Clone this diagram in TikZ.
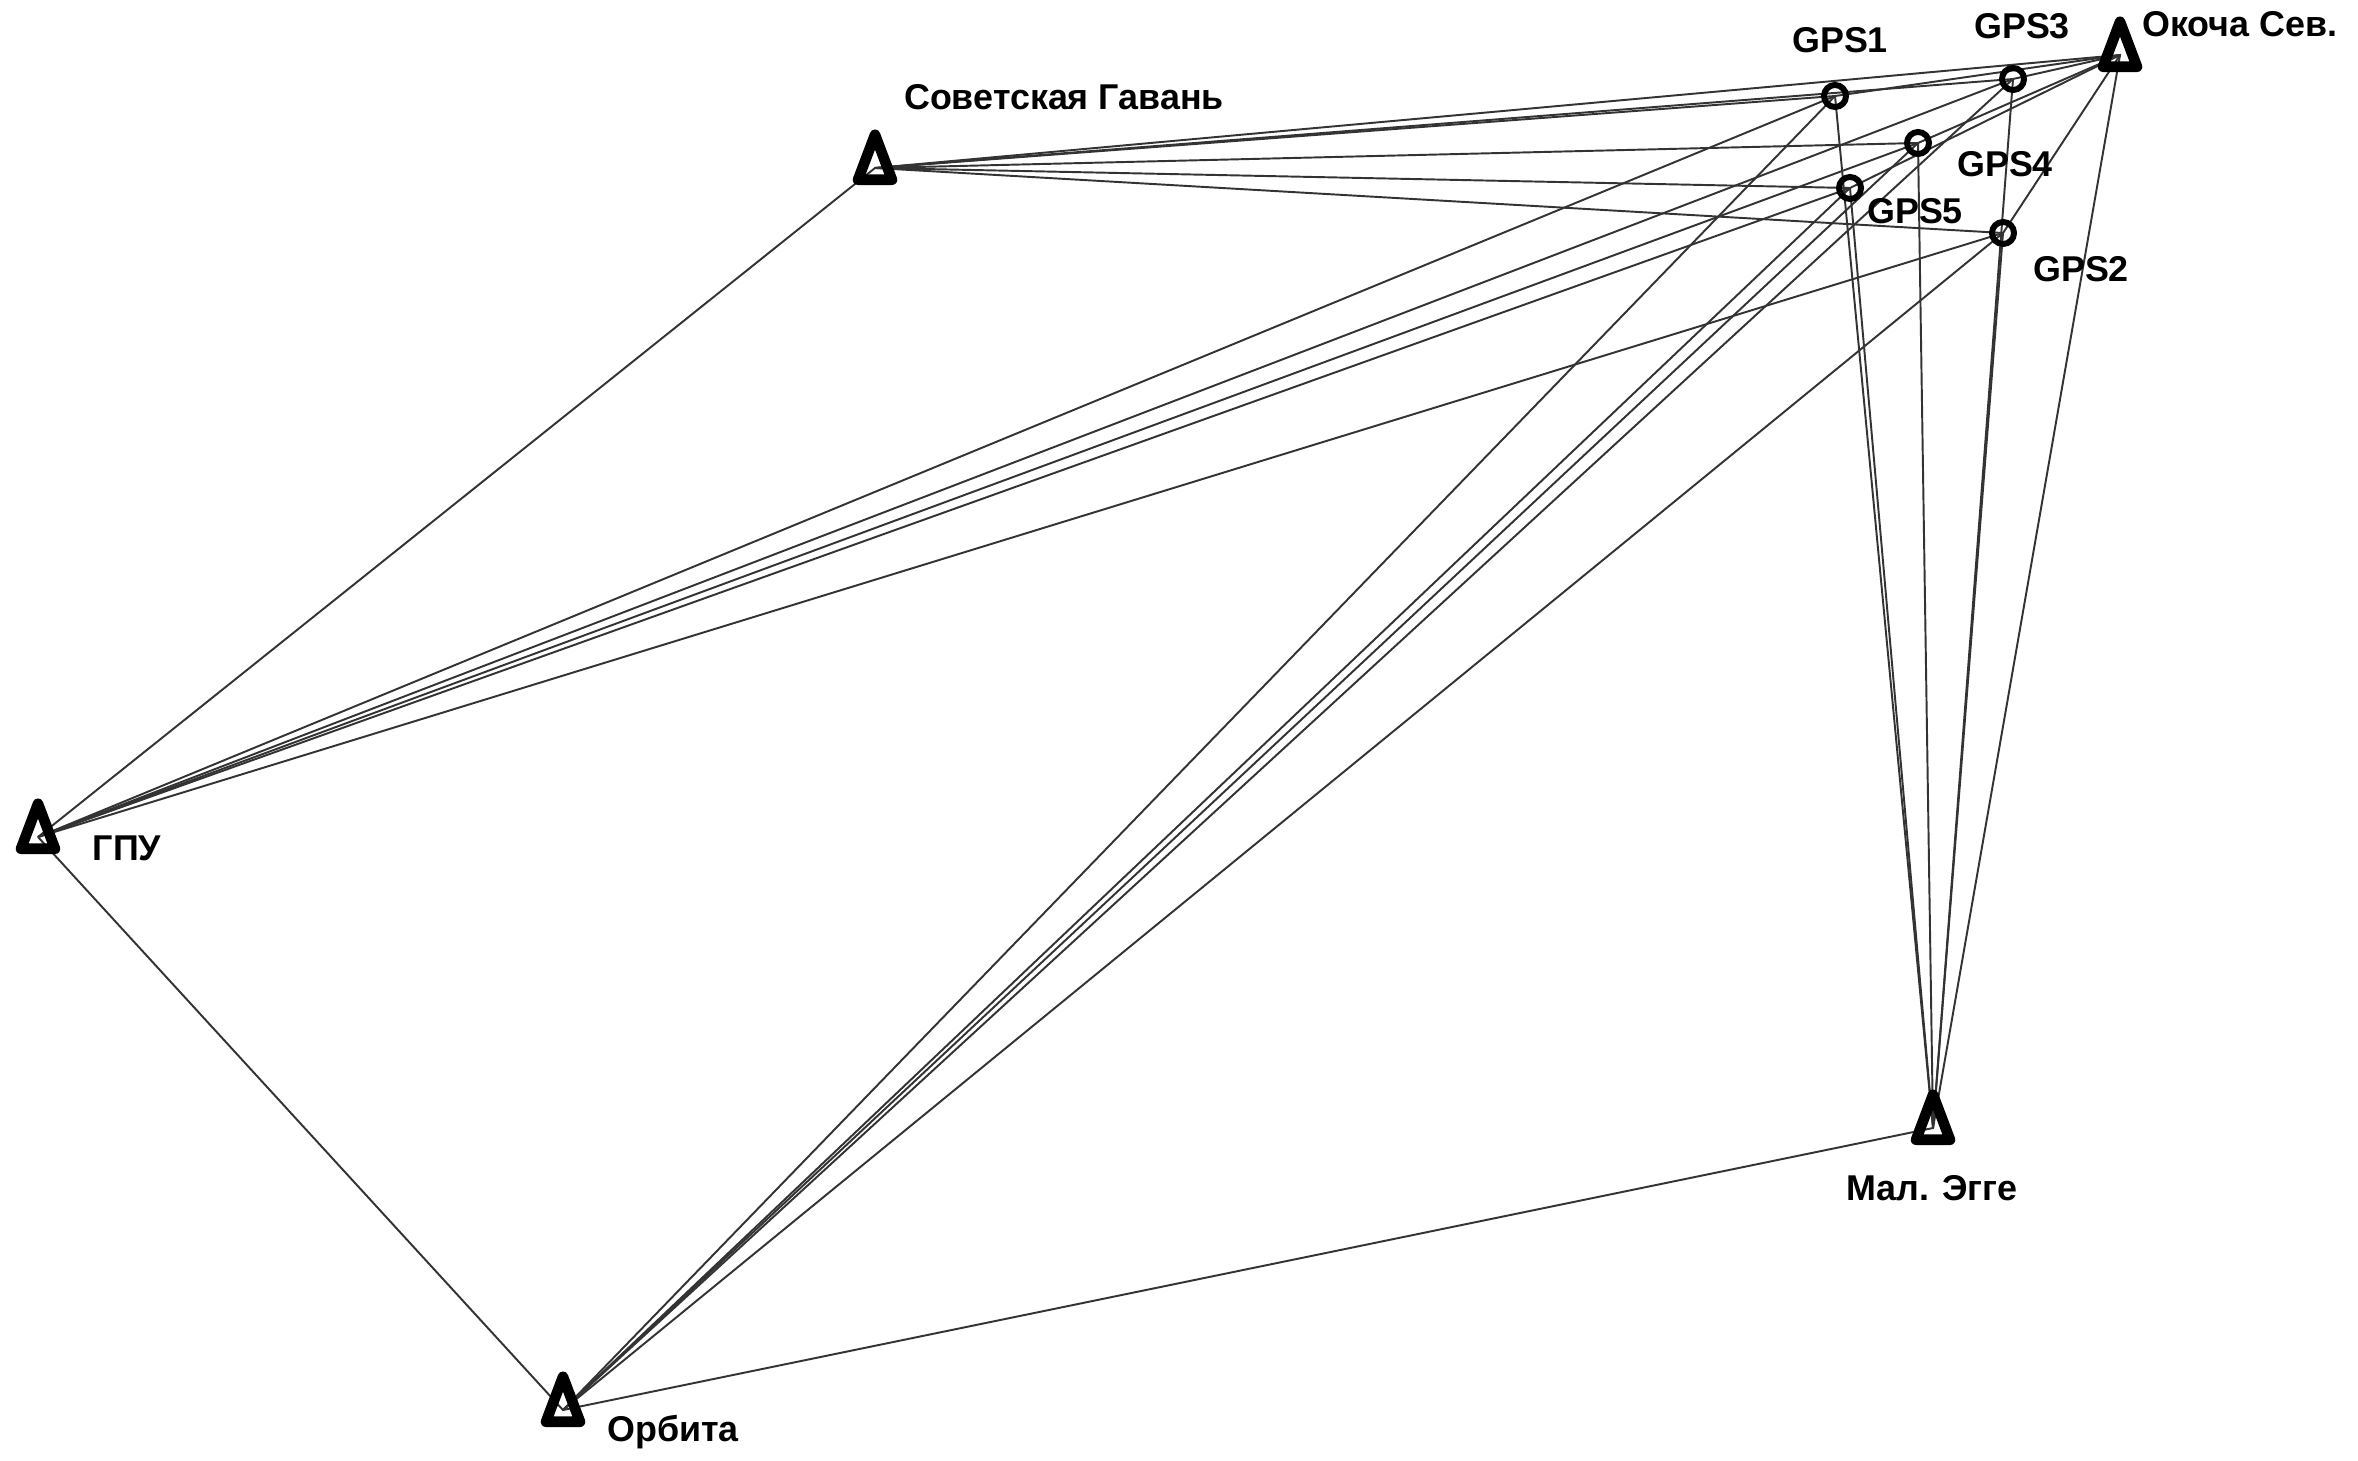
\documentclass[tikz,border=0pt]{standalone}
\usepackage{fontspec}
\setmainfont{Liberation Sans}
\usetikzlibrary{shapes.geometric,backgrounds}

\newcommand{\station}[4]{%
    \node[station] (#1) at (#2) {};%
    \node[stname] (#1-name) at (#3) {#4};%
}
\newcommand{\gpspoint}[4]{%
    \node[gpsmark] (#1) at (#2) {};%
    \node[stname] (#1-name) at (#3) {#4};%
}

\begin{document}
\begin{tikzpicture}[x=0.01cm, y=-0.01cm,
    station/.style={isosceles triangle, isosceles triangle stretches,
        shape border rotate=90, draw, line width=3pt, line join=round,
        inner sep=0pt, minimum width=0.34cm, minimum height=0.45cm},
    gpsmark/.style={circle, draw, line width=1.7pt, inner sep=0pt, minimum size=0.22cm},
    stname/.style={font=\fontsize{10.2}{12}\selectfont\bfseries, inner sep=0pt},
    vect/.style={line width=0.55pt, black!80}]
        \useasboundingbox (0,0) rectangle (2358,1461);

        % Reference stations
        \station{sg}{875,168}{1064,97}{Советская Гавань}
        \station{gpu}{38,837}{127,848}{ГПУ}
        \station{orb}{563,1410}{673,1432}{Орбита}
        \station{mae}{1933,1128}{1932,1188}{Мал. Эгге}
        \station{okc}{2120,55}{2240,24}{Окоча Сев.}

        % New GPS points
        \gpspoint{gps1}{1835,96}{1840,40}{GPS1}
        \gpspoint{gps3}{2013,79}{2022,26}{GPS3}
        \gpspoint{gps4}{1918,143}{2005,164}{GPS4}
        \gpspoint{gps5}{1850,188}{1915,211}{GPS5}
        \gpspoint{gps2}{2003,233}{2081,269}{GPS2}

        % --- Baselines ---
        \begin{scope}[on background layer]
            \foreach \st in {sg,gpu,orb,mae,okc}
                \foreach \pt in {gps1,gps2,gps3,gps4,gps5}
                    \draw[vect] (\st.center) -- (\pt.center);
            \draw[vect] (gpu.center) -- (sg.center) -- (okc.center) -- (mae.center)
                -- (orb.center) -- (gpu.center);
        \end{scope}

    \end{tikzpicture}
\end{document}
